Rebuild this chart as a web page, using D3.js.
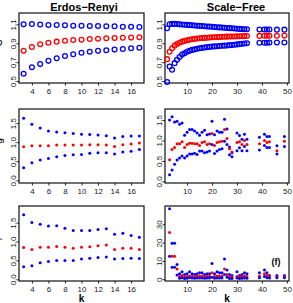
<!DOCTYPE html>
<html>
<head>
<meta charset="utf-8">
<script src="https://cdn.jsdelivr.net/npm/d3@7"></script>
<style>
  body { margin: 0; background: #fff; }
  text { font-family: "Liberation Sans", Arial, sans-serif; }
</style>
</head>
<body>
<div id="chart"></div>
<script>
// ---- data ----
const kER = [3, 4, 5, 6, 7, 8, 9, 10, 11, 12, 13, 14, 15, 16, 17];

const erTopHi  = [1.100, 1.103, 1.098, 1.093, 1.093, 1.090, 1.086, 1.086, 1.082, 1.082, 1.080, 1.080, 1.075, 1.075, 1.072];
const erTopMid = [0.820, 0.860, 0.890, 0.906, 0.917, 0.927, 0.935, 0.938, 0.945, 0.948, 0.953, 0.955, 0.958, 0.960, 0.963];
const erTopLo  = [0.577, 0.647, 0.680, 0.714, 0.742, 0.766, 0.784, 0.800, 0.810, 0.820, 0.826, 0.833, 0.840, 0.847, 0.853];

const erMidHi  = [1.63, 1.47, 1.37, 1.29, 1.27, 1.245, 1.23, 1.21, 1.20, 1.19, 1.17, 1.11, 1.15, 1.16, 1.16];
const erMidMid = [0.88, 0.905, 0.905, 0.905, 0.925, 0.925, 0.925, 0.925, 0.93, 0.93, 0.925, 0.89, 0.93, 0.95, 0.98];
const erMidLo  = [0.33, 0.46, 0.53, 0.57, 0.62, 0.65, 0.67, 0.68, 0.71, 0.72, 0.72, 0.69, 0.74, 0.76, 0.81];

const erBotHi  = [1.71, 1.50, 1.46, 1.41, 1.42, 1.35, 1.29, 1.29, 1.29, 1.32, 1.34, 1.19, 1.22, 1.16, 1.11];
const erBotMid = [0.84, 0.79, 0.85, 0.85, 0.87, 0.85, 0.82, 0.85, 0.86, 0.89, 0.91, 0.79, 0.82, 0.82, 0.79];
const erBotLo  = [0.33, 0.36, 0.44, 0.47, 0.50, 0.50, 0.50, 0.54, 0.56, 0.58, 0.59, 0.54, 0.55, 0.56, 0.55];

const kSFTop = [2, 3, 4, 5, 6, 7, 8, 9, 10, 11, 12, 13, 14, 15, 16, 17, 18, 19, 20, 21, 22, 23, 24, 25, 26, 27, 28, 29, 30, 31, 32, 33, 34, 39, 41, 42, 43, 46, 49];
const sfTopHi  = [1.058, 1.100, 1.105, 1.105, 1.103, 1.100, 1.098, 1.096, 1.094, 1.092, 1.090, 1.088, 1.086, 1.084, 1.082, 1.080, 1.078, 1.076, 1.074, 1.072, 1.070, 1.068, 1.066, 1.064, 1.062, 1.060, 1.058, 1.056, 1.054, 1.052, 1.050, 1.049, 1.048, 1.046, 1.046, 1.045, 1.045, 1.044, 1.044];
const sfTopMid = [0.732, 0.810, 0.847, 0.875, 0.893, 0.906, 0.917, 0.925, 0.932, 0.937, 0.942, 0.946, 0.950, 0.953, 0.955, 0.957, 0.959, 0.961, 0.963, 0.964, 0.965, 0.967, 0.968, 0.969, 0.970, 0.971, 0.972, 0.972, 0.973, 0.974, 0.975, 0.976, 0.977, 0.978, 0.979, 0.979, 0.980, 0.980, 0.981];
const sfTopLo  = [0.490, 0.654, 0.620, 0.690, 0.725, 0.755, 0.780, 0.795, 0.810, 0.820, 0.830, 0.835, 0.842, 0.847, 0.851, 0.855, 0.859, 0.862, 0.865, 0.867, 0.869, 0.871, 0.873, 0.875, 0.877, 0.880, 0.882, 0.885, 0.888, 0.891, 0.894, 0.897, 0.900, 0.905, 0.906, 0.906, 0.907, 0.908, 0.908];

const kSF = [3, 4, 5, 6, 7, 8, 9, 10, 11, 12, 13, 14, 15, 16, 17, 18, 19, 20, 21, 22, 23, 24, 25, 26, 27, 28, 30, 31, 32, 33, 34, 39, 41, 42, 43, 46, 49];
const sfMidHi  = [1.50, 1.58, 1.45, 1.47, 1.40, 1.43, 1.13, 1.20, 1.27, 1.27, 1.23, 1.18, 1.13, 1.20, 1.25, 1.14, 1.16, 1.47, 1.14, 1.23, 1.20, 1.20, 1.52, 1.28, 0.84, 0.70, 1.18, 1.12, 1.03, 1.15, 1.03, 1.08, 1.15, 1.10, 1.10, 0.87, 1.10];
const sfMidMid = [0.53, 0.78, 0.83, 0.92, 0.92, 0.97, 0.83, 0.90, 0.93, 0.93, 0.92, 0.92, 0.88, 0.95, 0.97, 0.90, 0.92, 1.17, 0.88, 0.95, 0.97, 0.98, 1.27, 1.05, 0.80, 0.72, 0.95, 0.97, 0.90, 1.00, 0.90, 0.92, 1.00, 0.95, 0.97, 0.75, 0.98];
const sfMidLo  = [0.16, 0.28, 0.42, 0.52, 0.57, 0.62, 0.57, 0.62, 0.67, 0.67, 0.69, 0.66, 0.74, 0.74, 0.70, 0.72, 0.74, 0.90, 0.68, 0.74, 0.78, 0.80, 0.98, 0.90, 0.65, 0.60, 0.75, 0.82, 0.75, 0.85, 0.75, 0.77, 0.88, 0.83, 0.83, 0.67, 0.85];

const sfBotHi  = [38.5, 19.7, 19.7, 8, 3, 4, 2.5, 3, 4, 3, 2.5, 3, 3.5, 3.5, 2.5, 3, 3, 8.5, 3, 4, 3.5, 3.5, 11, 5, 2.5, 2, 4, 2, 2.5, 3.5, 3, 3.5, 5, 3.5, 2, 2, 2];
const sfBotMid = [25.5, 12.5, 12.5, 5.5, 1.5, 2, 1.2, 1.5, 1.8, 1.5, 1.5, 1.6, 1.7, 1.7, 1.5, 1.6, 1.6, 3.5, 1.5, 1.8, 1.8, 1.8, 5.5, 2.5, 1.2, 1.2, 1.5, 1.3, 1.5, 1.8, 1.5, 1.8, 3, 2, 1.5, 1.5, 1.5];
const sfBotLo  = [12.5, 6.5, 6.5, 2.3, 0.5, 0.8, 0.3, 0.5, 0.8, 0.6, 0.5, 0.6, 0.7, 0.7, 0.5, 0.6, 0.6, 1, 0.5, 0.7, 0.7, 0.7, 2.5, 1, 0.4, 0.3, 0.6, 0.4, 0.5, 0.7, 0.5, 0.8, 1.5, 0.8, 0.6, 0.8, 0.8];

const erXTicks = [4, 6, 8, 10, 12, 14, 16];
const sfXTicks = [10, 20, 30, 40, 50];
const topYTicks = [0.5, 0.7, 0.9, 1.1];
const ratioYTicks = [0.0, 0.5, 1.0, 1.5];
const countYTicks = [0, 10, 20, 30];

const BLUE = '#0000ff', RED = '#ff0000';

const svg = d3.select('#chart').append('svg')
  .attr('width', 293)
  .attr('height', 303);

function drawPanel(p) {
  const x = d3.scaleLinear().domain(p.xDomain).range([p.left, p.right]);
  const y = d3.scaleLinear().domain(p.yDomain).range([p.bottom, p.top]);
  const g = svg.append('g');

  // x axis
  const xg = g.append('g')
    .attr('transform', `translate(0,${p.bottom})`)
    .call(d3.axisBottom(x).tickValues(p.xTicks).tickSize(2.5).tickPadding(2.5).tickFormat(d3.format('d')));
  xg.select('.domain').remove();
  xg.selectAll('text').attr('font-size', 8).attr('fill', '#222').attr('font-family', '"Liberation Sans", Arial, sans-serif');
  xg.selectAll('line').attr('stroke', '#222');

  // y axis, labels parallel to the axis like R
  const yg = g.append('g')
    .attr('transform', `translate(${p.left},0)`)
    .call(d3.axisLeft(y).tickValues(p.yTicks).tickSize(2.5).tickFormat(p.yFormat));
  yg.select('.domain').remove();
  yg.selectAll('line').attr('stroke', '#222');
  yg.selectAll('text')
    .attr('transform', 'rotate(-90)')
    .attr('x', 0).attr('y', -3.5).attr('dy', 0)
    .attr('text-anchor', 'middle')
    .attr('font-size', 8).attr('fill', '#222')
    .attr('font-family', '"Liberation Sans", Arial, sans-serif');

  // box
  g.append('rect')
    .attr('x', p.left).attr('y', p.top)
    .attr('width', p.right - p.left).attr('height', p.bottom - p.top)
    .attr('fill', 'none').attr('stroke', '#111').attr('stroke-width', 1.2);

  // series
  p.series.forEach(s => {
    const pts = p.k.map((k, i) => ({ k: k, v: s.values[i] }));
    if (p.open) {
      g.selectAll(null).data(pts).join('circle')
        .attr('cx', d => x(d.k)).attr('cy', d => y(d.v))
        .attr('r', 2.4)
        .attr('fill', 'none').attr('stroke', s.color).attr('stroke-width', 1.3);
    } else {
      g.selectAll(null).data(pts).join('circle')
        .attr('cx', d => x(d.k)).attr('cy', d => y(d.v))
        .attr('r', 1.5)
        .attr('fill', s.color);
    }
  });

  if (p.title) {
    svg.append('text')
      .attr('x', p.titleX).attr('y', 11)
      .attr('text-anchor', 'middle')
      .attr('font-size', 11).attr('font-weight', 'bold')
      .text(p.title);
  }
  if (p.xLabel) {
    svg.append('text')
      .attr('x', (p.left + p.right) / 2).attr('y', 302)
      .attr('text-anchor', 'middle')
      .attr('font-size', 10).attr('font-weight', 'bold')
      .text(p.xLabel);
  }
  if (p.yLabel) {
    svg.append('text')
      .attr('transform', `translate(2,${(p.top + p.bottom) / 2 - 5}) rotate(-90)`)
      .attr('text-anchor', 'middle')
      .attr('font-size', 10)
      .text(p.yLabel);
  }
  if (p.tag) {
    svg.append('text')
      .attr('x', p.tag.x).attr('y', p.tag.y)
      .attr('text-anchor', 'middle')
      .attr('font-size', 9).attr('font-weight', 'bold')
      .text(p.tag.text);
  }
}

const fmt1 = d3.format('.1f');
const fmt0 = d3.format('d');
const LX = [19, 144], RX = [165, 289];
const ROWS = [[13, 83], [109, 183], [206, 281]];

drawPanel({ left: LX[0], right: LX[1], top: ROWS[0][0], bottom: ROWS[0][1],
  xDomain: [2.44, 17.56], yDomain: [0.48, 1.22], xTicks: erXTicks, yTicks: topYTicks, yFormat: fmt1,
  k: kER, open: true, title: 'Erdos\u2212Renyi', titleX: 84, yLabel: 'C',
  series: [{ values: erTopHi, color: BLUE }, { values: erTopMid, color: RED }, { values: erTopLo, color: BLUE }] });

drawPanel({ left: RX[0], right: RX[1], top: ROWS[0][0], bottom: ROWS[0][1],
  xDomain: [1.16, 50.84], yDomain: [0.48, 1.22], xTicks: sfXTicks, yTicks: topYTicks, yFormat: fmt1,
  k: kSFTop, open: true, title: 'Scale\u2212Free', titleX: 236,
  series: [{ values: sfTopHi, color: BLUE }, { values: sfTopMid, color: RED }, { values: sfTopLo, color: BLUE }] });

drawPanel({ left: LX[0], right: LX[1], top: ROWS[1][0], bottom: ROWS[1][1],
  xDomain: [2.44, 17.56], yDomain: [-0.07, 1.87], xTicks: erXTicks, yTicks: ratioYTicks, yFormat: fmt1,
  k: kER, open: false, yLabel: 'g',
  series: [{ values: erMidHi, color: BLUE }, { values: erMidMid, color: RED }, { values: erMidLo, color: BLUE }] });

drawPanel({ left: RX[0], right: RX[1], top: ROWS[1][0], bottom: ROWS[1][1],
  xDomain: [1.16, 50.84], yDomain: [-0.04, 1.77], xTicks: sfXTicks, yTicks: ratioYTicks, yFormat: fmt1,
  k: kSF, open: false,
  series: [{ values: sfMidHi, color: BLUE }, { values: sfMidMid, color: RED }, { values: sfMidLo, color: BLUE }] });

drawPanel({ left: LX[0], right: LX[1], top: ROWS[2][0], bottom: ROWS[2][1],
  xDomain: [2.44, 17.56], yDomain: [-0.045, 1.94], xTicks: erXTicks, yTicks: ratioYTicks, yFormat: fmt1,
  k: kER, open: false, xLabel: 'k', yLabel: 'r',
  series: [{ values: erBotHi, color: BLUE }, { values: erBotMid, color: RED }, { values: erBotLo, color: BLUE }] });

drawPanel({ left: RX[0], right: RX[1], top: ROWS[2][0], bottom: ROWS[2][1],
  xDomain: [1.16, 50.84], yDomain: [-1, 40], xTicks: sfXTicks, yTicks: countYTicks, yFormat: fmt0,
  k: kSF, open: false, xLabel: 'k', tag: { x: 276, y: 265, text: '(f)' },
  series: [{ values: sfBotHi, color: BLUE }, { values: sfBotMid, color: RED }, { values: sfBotLo, color: BLUE }] });
</script>
</body>
</html>
